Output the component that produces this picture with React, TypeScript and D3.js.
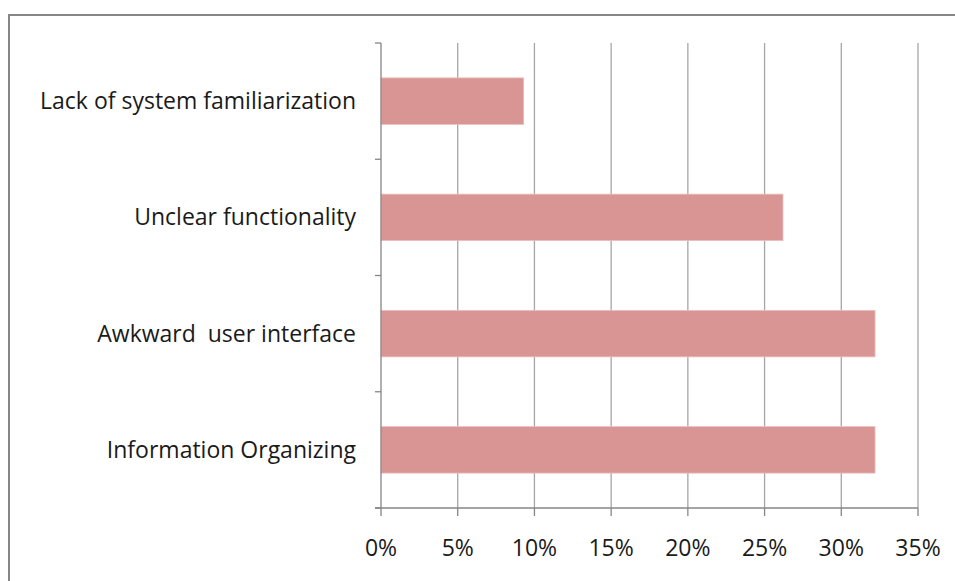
import * as d3 from 'd3';
import React from 'react';

const categories = [
    'Lack of system familiarization',
    'Unclear functionality',
    'Awkward  user interface',
    'Information Organizing',
];
const values = [9.3, 26.2, 32.2, 32.2];
const xTicks = [0, 5, 10, 15, 20, 25, 30, 35];

const W = 955;
const H = 581;
const FONT = '"Open Sans", Lato, sans-serif';

export default function App() {
    const left = 381;
    const right = 918;
    const top = 43;
    const bottom = 508;

    const x = d3.scaleLinear().domain([0, 35]).range([left, right]);
    const y = d3.scaleBand<string>().domain(categories).range([top, bottom])
        .paddingInner(0.6).paddingOuter(0.3);
    const step = y.step();

    return (
        <svg width={W} height={H} style={{ position: 'absolute', left: 0, top: 0 }}>
            <rect x={0} y={0} width={W} height={H} fill="#fff" />
            {/* outer frame */}
            <path d={`M9,${H + 5} V15 H${W + 5}`} fill="none" stroke="#868686" strokeWidth={2} />

            {/* vertical gridlines */}
            {xTicks.slice(1).map(t => (
                <line key={t} x1={x(t)} x2={x(t)} y1={top} y2={bottom} stroke="#a6a6a6" strokeWidth={1.3} />
            ))}

            {/* bars */}
            {categories.map((c, i) => (
                <rect key={c} x={x(0)} y={y(c)} width={x(values[i]) - x(0)} height={y.bandwidth()}
                    fill="#d99594" stroke="#e8c0bf" strokeWidth={0.8} />
            ))}

            {/* category axis */}
            <line x1={left} x2={left} y1={top} y2={bottom} stroke="#868686" strokeWidth={1.3} />
            {d3.range(categories.length + 1).map(i => (
                <line key={i} x1={left - 6} x2={left} y1={top + i * step} y2={top + i * step}
                    stroke="#868686" strokeWidth={1.3} />
            ))}
            {categories.map(c => (
                <text key={c} x={left - 25} y={(y(c) ?? 0) + y.bandwidth() / 2} dy="0.35em"
                    textAnchor="end" fontFamily={FONT} fontSize={23} fill="#1a1a1a" style={{ whiteSpace: 'pre' }}>
                    {c}
                </text>
            ))}

            {/* value axis */}
            <line x1={left - 6} x2={right} y1={bottom} y2={bottom} stroke="#868686" strokeWidth={1.3} />
            {xTicks.map(t => (
                <g key={t}>
                    <line x1={x(t)} x2={x(t)} y1={bottom} y2={bottom + 8} stroke="#868686" strokeWidth={1.3} />
                    <text x={x(t)} y={548} dy="0.35em" textAnchor="middle" fontFamily={FONT} fontSize={23} fill="#1a1a1a">
                        {t}%
                    </text>
                </g>
            ))}
        </svg>
    );
}
